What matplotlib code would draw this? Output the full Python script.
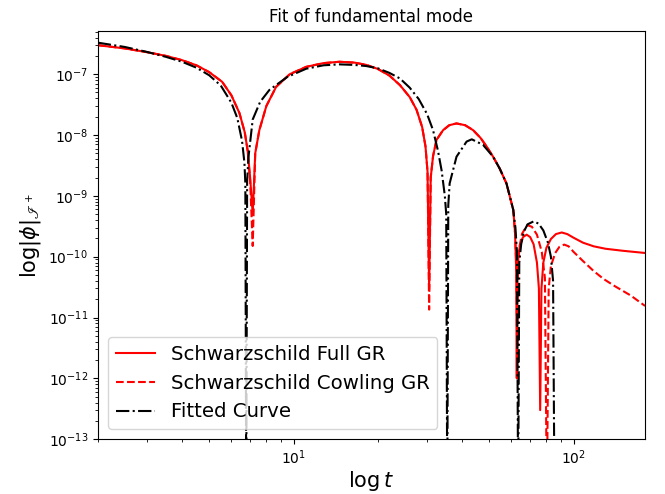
import matplotlib
matplotlib.use("Agg")
import matplotlib.pyplot as plt

# ── data (t, |phi| at scri+) ────────────────────────────────────────────────
t_full = [2.0, 2.5, 3.0, 3.5, 4.0, 4.5, 5.0, 5.56, 6.0, 6.41, 6.7, 6.86, 7.0,
          7.15, 7.3, 7.55, 8.0, 8.67, 9.7, 11.1, 12.8, 14.6, 16.5, 18.2, 20.0,
          22.0, 24.0, 26.0, 27.5, 28.8, 29.6, 30.1, 30.5, 30.9, 31.5, 32.4,
          34.2, 36.0, 38.2, 41.0, 43.8, 46.5, 48.9, 51.6, 54.5, 57.6, 60.9,
          61.8, 62.4, 62.7, 63.0, 63.6, 64.5, 66.0, 68.0, 70.0, 72.0, 74.0,
          75.2, 76.0, 76.8, 78.0, 80.0, 83.0, 86.5, 90.7, 95.0, 100.0, 108.0,
          118.0, 130.0, 150.0, 180.0]
phi_full = [3.0e-7, 2.65e-7, 2.3e-7, 2.0e-7, 1.7e-7, 1.4e-7, 1.08e-7, 7.5e-8,
            4.5e-8, 2.3e-8, 1.1e-8, 5.5e-9, 2.0e-9, 5e-10, 5e-9, 1.2e-8,
            3.0e-8, 6.2e-8, 1.0e-7, 1.32e-7, 1.52e-7, 1.6e-7, 1.55e-7,
            1.42e-7, 1.22e-7, 9.5e-8, 6.6e-8, 4.2e-8, 2.6e-8, 1.35e-8,
            6.5e-9, 2.5e-9, 2.9e-11, 2.0e-9, 4.5e-9, 8.3e-9, 1.2e-8, 1.45e-8,
            1.55e-8, 1.45e-8, 1.2e-8, 9.0e-9, 6.5e-9, 4.4e-9, 2.8e-9, 1.6e-9,
            5.9e-10, 2.5e-10, 6e-11, 1e-12, 5e-11, 1.1e-10, 1.6e-10, 2.1e-10,
            2.3e-10, 2.1e-10, 1.6e-10, 8e-11, 3e-11, 3e-13, 3e-11, 8e-11,
            1.4e-10, 1.95e-10, 2.35e-10, 2.5e-10, 2.35e-10, 2.05e-10, 1.7e-10,
            1.48e-10, 1.35e-10, 1.25e-10, 1.15e-10]

t_cowling = [2.0, 2.5, 3.0, 3.5, 4.0, 4.5, 5.0, 5.56, 6.0, 6.41, 6.7, 6.86,
             7.0, 7.15, 7.3, 7.55, 8.0, 8.67, 9.7, 11.1, 12.8, 14.6, 16.5,
             18.2, 20.0, 22.0, 24.0, 26.0, 27.5, 28.8, 29.6, 30.1, 30.5, 30.9,
             31.5, 32.4, 34.2, 36.0, 38.2, 41.0, 43.8, 46.5, 48.9, 51.6, 54.5,
             57.6, 60.9, 61.9, 62.6, 62.9, 63.3, 64.0, 65.5, 68.4, 71.0, 74.0,
             77.0, 79.0, 80.3, 81.5, 83.0, 86.0, 89.0, 92.6, 96.0, 100.0,
             108.0, 118.0, 128.0, 140.0, 160.0, 180.0]
phi_cowling = [3.0e-7, 2.65e-7, 2.3e-7, 2.0e-7, 1.7e-7, 1.4e-7, 1.08e-7,
               7.5e-8, 4.5e-8, 2.3e-8, 1.1e-8, 5.5e-9, 1.8e-9, 1.5e-10, 5e-9,
               1.2e-8, 3.0e-8, 6.2e-8, 1.0e-7, 1.32e-7, 1.52e-7, 1.6e-7,
               1.55e-7, 1.42e-7, 1.22e-7, 9.5e-8, 6.6e-8, 4.2e-8, 2.6e-8,
               1.35e-8, 6.5e-9, 2.5e-9, 1.35e-11, 2.0e-9, 4.5e-9, 8.3e-9,
               1.2e-8, 1.45e-8, 1.55e-8, 1.45e-8, 1.2e-8, 9.0e-9, 6.5e-9,
               4.4e-9, 2.8e-9, 1.6e-9, 5.9e-10, 2.2e-10, 5e-11, 2e-12, 5e-11,
               1.4e-10, 2.4e-10, 3.3e-10, 3.1e-10, 2.3e-10, 1.2e-10, 4.5e-11,
               1e-14, 3e-11, 7e-11, 1.15e-10, 1.45e-10, 1.58e-10, 1.48e-10,
               1.2e-10, 8.5e-11, 5.8e-11, 4.3e-11, 3.3e-11, 2.3e-11, 1.55e-11]

t_fit = [2.0, 2.5, 3.0, 3.5, 4.0, 4.5, 5.0, 5.5, 6.0, 6.3, 6.55, 6.68, 6.73,
         6.78, 6.83, 6.9, 7.15, 7.6, 8.2, 9.5, 11.1, 12.8, 14.6, 16.5, 18.2,
         20.0, 22.0, 24.0, 26.0, 28.0, 30.0, 31.5, 32.8, 33.8, 34.7, 35.1,
         35.4, 35.7, 36.1, 38.2, 41.5, 43.3, 47.5, 51.6, 54.5, 57.6, 60.9,
         62.0, 62.8, 63.4, 64.0, 65.0, 66.5, 68.5, 72.0, 75.0, 78.0, 81.0,
         83.0, 84.5, 85.5]
phi_fit = [3.3e-7, 2.8e-7, 2.32e-7, 1.93e-7, 1.6e-7, 1.28e-7, 9.6e-8, 6.5e-8,
           3.4e-8, 1.9e-8, 8e-9, 3.5e-9, 1.6e-9, 1e-14, 1.7e-9, 4.2e-9,
           1.8e-8, 3.5e-8, 5.5e-8, 9.0e-8, 1.23e-7, 1.4e-7, 1.45e-7, 1.42e-7,
           1.36e-7, 1.25e-7, 1.05e-7, 8.5e-8, 6.0e-8, 3.9e-8, 2.2e-8, 1.2e-8,
           5.5e-9, 2.6e-9, 1.0e-9, 5e-10, 1e-14, 7e-10, 1.6e-9, 4.4e-9,
           7.8e-9, 8.5e-9, 6.9e-9, 4.4e-9, 2.8e-9, 1.6e-9, 5.9e-10, 3e-10,
           1.2e-10, 1e-14, 8e-11, 1.6e-10, 2.6e-10, 3.4e-10, 3.8e-10, 3.5e-10,
           2.7e-10, 1.7e-10, 1.0e-10, 4e-11, 1e-14]

fig = plt.figure(figsize=(6.65, 4.94), dpi=100)
ax = fig.add_axes([0.147, 0.111, 0.823, 0.827])

ax.plot(t_full, phi_full, color="red", lw=1.5, label="Schwarzschild Full GR")
ax.plot(t_cowling, phi_cowling, color="red", lw=1.5, ls="--",
        label="Schwarzschild Cowling GR")
ax.plot(t_fit, phi_fit, color="black", lw=1.5, ls="-.", label="Fitted Curve")

ax.set_xscale("log")
ax.set_yscale("log")
ax.set_xlim(2, 180)
ax.set_ylim(1e-13, 5.2e-7)

ax.set_title("Fit of fundamental mode", fontsize=12)
ax.set_xlabel(r"$\log t$", fontsize=15, labelpad=1)
ax.set_ylabel(r"$\log|\phi|_{\mathscr{I}^+}$", fontsize=15)
ax.legend(loc="lower left", fontsize=14.2)

fig.savefig("out.png", dpi=100)
